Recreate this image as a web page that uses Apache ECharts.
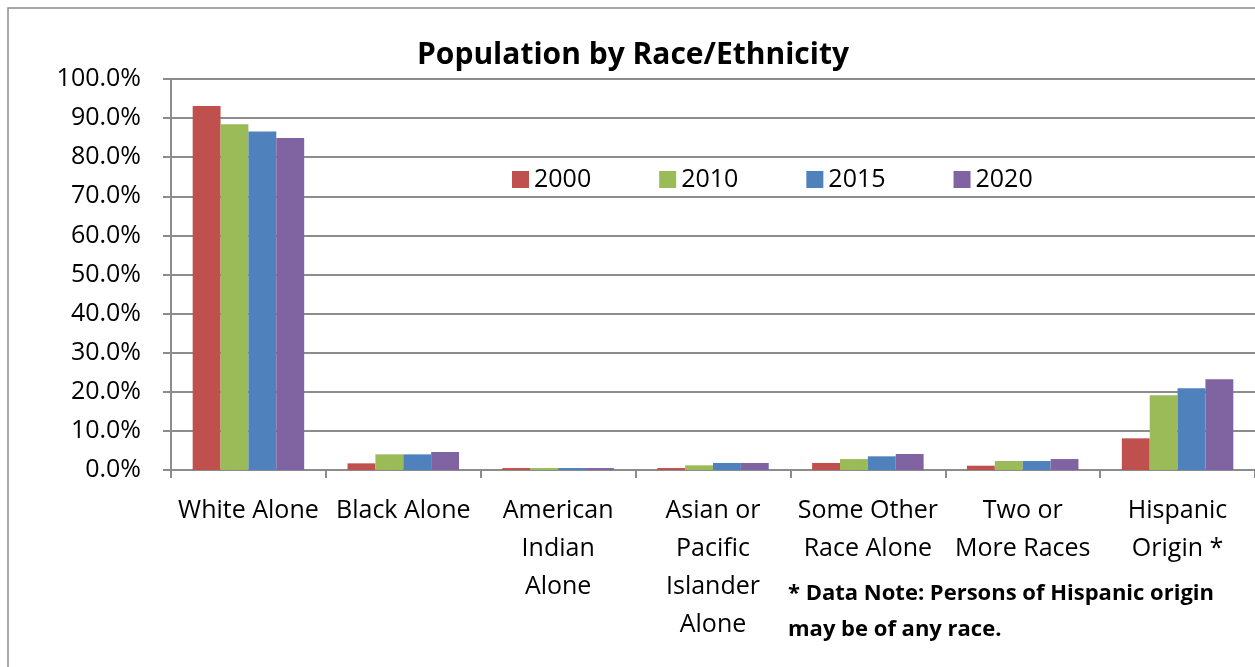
<!DOCTYPE html>
<html>
<head>
<meta charset="utf-8">
<script src="https://cdn.jsdelivr.net/npm/echarts@6/dist/echarts.min.js"></script>
<style>html,body{margin:0;padding:0;background:#fff;}#c{width:1255px;height:667px;}</style>
</head>
<body>
<div id="c"></div>
<script>
const categories = ["White Alone", "Black Alone", "American\nIndian\nAlone", "Asian or\nPacific\nIslander\nAlone", "Some Other\nRace Alone", "Two or\nMore Races", "Hispanic\nOrigin *"];
const years = ["2000", "2010", "2015", "2020"];
const v2000 = [93.1, 1.7, 0.5, 0.5, 1.8, 1.1, 8.1];
const v2010 = [88.4, 4.0, 0.5, 1.2, 2.8, 2.3, 19.1];
const v2015 = [86.6, 4.0, 0.5, 1.8, 3.5, 2.3, 20.9];
const v2020 = [84.9, 4.6, 0.5, 1.8, 4.1, 2.8, 23.2];
const colors = ["#C0504D", "#9BBB59", "#4F81BD", "#8064A2"];
const seriesValues = [v2000, v2010, v2015, v2020];

const font = "'Open Sans', 'Liberation Sans', sans-serif";
const chart = echarts.init(document.getElementById('c'), null, {renderer: 'canvas'});
chart.setOption({
  animation: false,
  backgroundColor: '#fff',
  title: {
    text: 'Population by Race/Ethnicity',
    left: 412, top: 35,
    textStyle: {fontFamily: font, fontWeight: 'bold', fontSize: 30, color: '#000'}
  },
  legend: {
    data: years,
    left: 507, top: 162,
    itemWidth: 17, itemHeight: 17, itemGap: 68,
    icon: 'rect',
    textStyle: {fontFamily: font, fontSize: 25, color: '#000'}
  },
  grid: {left: 171, right: 0, top: 79, bottom: 197, containLabel: false},
  xAxis: {
    type: 'category',
    data: categories,
    axisLine: {lineStyle: {color: '#8c8c8c', width: 2}},
    axisTick: {show: true, length: 8, inside: false, lineStyle: {color: '#8c8c8c', width: 2}},
    axisLabel: {fontFamily: font, fontSize: 25, color: '#000', lineHeight: 38, margin: 22, interval: 0}
  },
  yAxis: {
    type: 'value', min: 0, max: 100, interval: 10,
    axisLine: {show: true, lineStyle: {color: '#8c8c8c', width: 2}},
    axisTick: {show: true, length: 8, lineStyle: {color: '#8c8c8c', width: 2}},
    splitLine: {lineStyle: {color: '#8c8c8c', width: 2}},
    axisLabel: {fontFamily: font, fontSize: 25, color: '#000', margin: 30, formatter: v => v.toFixed(1) + '%'}
  },
  series: years.map((y, i) => ({
    name: y, type: 'bar', data: seriesValues[i],
    itemStyle: {color: colors[i]},
    barGap: '0%', barCategoryGap: '28%'
  })),
  graphic: [
    {type: 'rect', shape: {x: 8, y: 8, width: 1300, height: 700}, style: {fill: 'none', stroke: '#8c8c8c', lineWidth: 1.5}, silent: true, z: -1},
    {type: 'text', left: 788, top: 576, style: {text: '* Data Note: Persons of Hispanic origin\nmay be of any race.', font: 'bold 22px ' + font, fill: '#000', lineHeight: 36}}
  ]
});
</script>
</body>
</html>
